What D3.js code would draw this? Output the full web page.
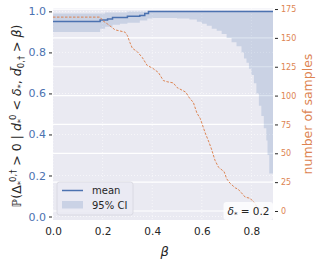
<!DOCTYPE html>
<html>
<head>
<meta charset="utf-8">
<script src="https://cdn.jsdelivr.net/npm/d3@7"></script>
<style>
body { margin: 0; background: #fff; }
text { font-family: "DejaVu Sans", sans-serif; }
</style>
</head>
<body>
<script>
(function(){

// mean probability (step curve)
var meanBeta = [0, 0.19, 0.22, 0.24, 0.30, 0.35, 0.37, 0.385, 0.887];
var meanVals = [0.951, 0.958, 0.963, 0.970, 0.976, 0.980, 0.990, 1.0, 1.0];

// 95% CI band
var ciBeta = [0, 0.19, 0.21, 0.24, 0.27, 0.30, 0.35, 0.38, 0.40, 0.50, 0.55, 0.58, 0.60, 0.62, 0.64, 0.66, 0.68, 0.70, 0.72, 0.74, 0.76, 0.77, 0.78, 0.79, 0.80, 0.81, 0.82, 0.83, 0.84, 0.85, 0.86, 0.865, 0.872, 0.887];
var ciLow = [0.90, 0.915, 0.925, 0.935, 0.94, 0.945, 0.955, 0.965, 0.968, 0.965, 0.96, 0.95, 0.94, 0.93, 0.915, 0.905, 0.89, 0.87, 0.85, 0.83, 0.80, 0.77, 0.75, 0.72, 0.69, 0.65, 0.60, 0.54, 0.49, 0.43, 0.37, 0.30, 0.21, 0.21];
var ciHigh = [0.99, 0.99, 0.995, 0.995, 0.995, 1, 1, 1, 1, 1, 1, 1, 1, 1, 1, 1, 1, 1, 1, 1, 1, 1, 1, 1, 1, 1, 1, 1, 1, 1, 1, 1, 1, 1];

// number of samples
var nBeta = [0, 0.19, 0.20, 0.22, 0.25, 0.29, 0.30, 0.31, 0.32, 0.34, 0.36, 0.38, 0.40, 0.425, 0.445, 0.46, 0.485, 0.50, 0.535, 0.55, 0.566, 0.58, 0.594, 0.613, 0.63, 0.64, 0.653, 0.667, 0.69, 0.70, 0.714, 0.735, 0.746, 0.767, 0.775, 0.795, 0.807, 0.815, 0.82, 0.835, 0.845];
var nVals = [168, 168, 165, 162, 157, 155, 152, 146, 141, 138, 133, 126, 124, 120, 113, 112, 111, 107, 103, 98, 94, 85, 80, 68, 59, 53, 44, 38, 34, 28, 24, 20, 19, 14, 12, 11, 8, 7, 4, 2, 0];

var xTicks = [0, 0.2, 0.4, 0.6, 0.8];
var leftTicks = [0, 0.2, 0.4, 0.6, 0.8, 1.0];
var rightTicks = [0, 25, 50, 75, 100, 125, 150, 175];

var width = 319, height = 262;
var plot = {left: 53, right: 273, top: 8, bottom: 220};

var blue = "#4c72b0", orange = "#dd8452";

var svg = d3.select("body").append("svg")
    .attr("width", width)
    .attr("height", height);

var x = d3.scaleLinear().domain([0, 0.887]).range([plot.left, plot.right]);
var y = d3.scaleLinear().domain([-0.017, 1.0165]).range([plot.bottom, plot.top]);
var y2 = d3.scaleLinear().domain([-7.8, 175.9]).range([plot.bottom, plot.top]);

svg.append("rect")
    .attr("x", plot.left).attr("y", plot.top)
    .attr("width", plot.right - plot.left)
    .attr("height", plot.bottom - plot.top)
    .attr("fill", "#eaeaf2");

// white grid from the right axis
svg.selectAll(".grid2").data(rightTicks).enter().append("line")
    .attr("x1", plot.left).attr("x2", plot.right)
    .attr("y1", function(d){ return y2(d); })
    .attr("y2", function(d){ return y2(d); })
    .attr("stroke", "#fff").attr("stroke-width", 1.2);

// faint dotted grid for the left and x axes
svg.selectAll(".gridy").data(leftTicks).enter().append("line")
    .attr("x1", plot.left).attr("x2", plot.right)
    .attr("y1", function(d){ return y(d); })
    .attr("y2", function(d){ return y(d); })
    .attr("stroke", "#fff").attr("stroke-opacity", 0.6)
    .attr("stroke-dasharray", "1,2");
svg.selectAll(".gridx").data(xTicks).enter().append("line")
    .attr("y1", plot.top).attr("y2", plot.bottom)
    .attr("x1", function(d){ return x(d); })
    .attr("x2", function(d){ return x(d); })
    .attr("stroke", "#fff").attr("stroke-opacity", 0.6)
    .attr("stroke-dasharray", "1,2");

// CI band
var ciData = ciBeta.map(function(b, i){ return {b: b, lo: ciLow[i], hi: ciHigh[i]}; });
svg.append("path")
    .datum(ciData)
    .attr("d", d3.area()
        .curve(d3.curveStepAfter)
        .x(function(d){ return x(d.b); })
        .y0(function(d){ return y(d.lo); })
        .y1(function(d){ return y(d.hi); }))
    .attr("fill", blue).attr("fill-opacity", 0.2);

// mean line
var meanData = meanBeta.map(function(b, i){ return {b: b, v: meanVals[i]}; });
svg.append("path")
    .datum(meanData)
    .attr("d", d3.line()
        .curve(d3.curveStepAfter)
        .x(function(d){ return x(d.b); })
        .y(function(d){ return y(d.v); }))
    .attr("fill", "none").attr("stroke", blue).attr("stroke-width", 1.5);

// number of samples
var nData = nBeta.map(function(b, i){ return {b: b, v: nVals[i]}; });
svg.append("path")
    .datum(nData)
    .attr("d", d3.line()
        .x(function(d){ return x(d.b); })
        .y(function(d){ return y2(d.v); }))
    .attr("fill", "none").attr("stroke", orange).attr("stroke-width", 1)
    .attr("stroke-dasharray", "2.5,1.5");

// axes
var xAxis = svg.append("g")
    .attr("transform", "translate(0," + (plot.bottom + 4) + ")")
    .call(d3.axisBottom(x).tickValues(xTicks).tickSize(0).tickPadding(4).tickFormat(d3.format(".1f")));
xAxis.select(".domain").remove();
xAxis.selectAll("text").attr("font-size", 10.5).attr("fill", "#262626")
    .attr("font-family", "DejaVu Sans");

var yAxis = svg.append("g")
    .attr("transform", "translate(" + (plot.left - 1) + ",0)")
    .call(d3.axisLeft(y).tickValues(leftTicks).tickSize(3).tickPadding(3).tickFormat(d3.format(".1f")));
yAxis.select(".domain").remove();
yAxis.selectAll("line").attr("stroke", "#262626");
yAxis.selectAll("text").attr("font-size", 11).attr("fill", blue)
    .attr("font-family", "DejaVu Sans");

var y2Axis = svg.append("g")
    .attr("transform", "translate(" + (plot.right + 2) + ",0)")
    .call(d3.axisRight(y2).tickValues(rightTicks).tickSize(3).tickPadding(3));
y2Axis.select(".domain").remove();
y2Axis.selectAll("line").attr("stroke", "#262626");
y2Axis.selectAll("text").attr("font-size", 8).attr("fill", orange)
    .attr("font-family", "DejaVu Sans");

// axis labels
svg.append("text")
    .attr("x", x(0.45)).attr("y", 256)
    .attr("text-anchor", "middle")
    .attr("font-size", 13).attr("font-style", "italic").attr("fill", "#262626")
    .text("β");

svg.append("text")
    .attr("transform", "translate(312," + ((plot.top + plot.bottom) / 2) + ") rotate(-90)")
    .attr("text-anchor", "middle")
    .attr("font-size", 12.5).attr("fill", orange)
    .text("number of samples");

var yl = svg.append("text")
    .attr("transform", "translate(21,116) rotate(-90)")
    .attr("text-anchor", "middle")
    .attr("font-size", 12.5).attr("fill", "#262626");
yl.append("tspan").text("ℙ(Δ");
yl.append("tspan").attr("font-size", 8.5).attr("dy", 3).text("*");
yl.append("tspan").attr("font-size", 8.5).attr("dy", -8).attr("dx", -1).text("0,†");
yl.append("tspan").attr("dy", 5).text(" > 0 | ");
yl.append("tspan").attr("font-style", "italic").text("d");
yl.append("tspan").attr("font-size", 8.5).attr("dy", 3).text("*");
yl.append("tspan").attr("font-size", 8.5).attr("dy", -8).attr("dx", -1).text("0");
yl.append("tspan").attr("dy", 5).text(" < ");
yl.append("tspan").attr("font-style", "italic").text("δ");
yl.append("tspan").attr("font-size", 8.5).attr("dy", 3).text("*");
yl.append("tspan").attr("dy", -3).text(", ");
yl.append("tspan").attr("font-style", "italic").text("d\u0304");
yl.append("tspan").attr("font-size", 8.5).attr("dy", 3).text("0,†");
yl.append("tspan").attr("dy", -3).text(" > ");
yl.append("tspan").attr("font-style", "italic").text("β");
yl.append("tspan").text(")");

// legend
var lg = svg.append("g").attr("transform", "translate(57,182)");
lg.append("rect")
    .attr("width", 76).attr("height", 33).attr("rx", 2.5)
    .attr("fill", "#eaeaf2").attr("fill-opacity", 0.8)
    .attr("stroke", "#d6d6de").attr("stroke-width", 0.8);
lg.append("line")
    .attr("x1", 5).attr("x2", 26).attr("y1", 8.5).attr("y2", 8.5)
    .attr("stroke", blue).attr("stroke-width", 1.5);
lg.append("rect")
    .attr("x", 5).attr("y", 19).attr("width", 21).attr("height", 7.5)
    .attr("fill", blue).attr("fill-opacity", 0.2);
lg.append("text").attr("x", 35).attr("y", 12).attr("font-size", 10)
    .attr("fill", "#262626").text("mean");
lg.append("text").attr("x", 35).attr("y", 27).attr("font-size", 10)
    .attr("fill", "#262626").text("95% CI");

// delta box
var db = svg.append("g").attr("transform", "translate(223.5,202)");
db.append("rect")
    .attr("width", 49.5).attr("height", 18).attr("rx", 3)
    .attr("fill", "#fff").attr("fill-opacity", 0.8);
var dt = db.append("text").attr("x", 25).attr("y", 13)
    .attr("text-anchor", "middle").attr("font-size", 10.5).attr("fill", "#262626");
dt.append("tspan").attr("font-style", "italic").text("δ");
dt.append("tspan").attr("font-size", 7).attr("dy", 2).text("*");
dt.append("tspan").attr("dy", -2).text(" = 0.2");

})();
</script>
</body>
</html>
